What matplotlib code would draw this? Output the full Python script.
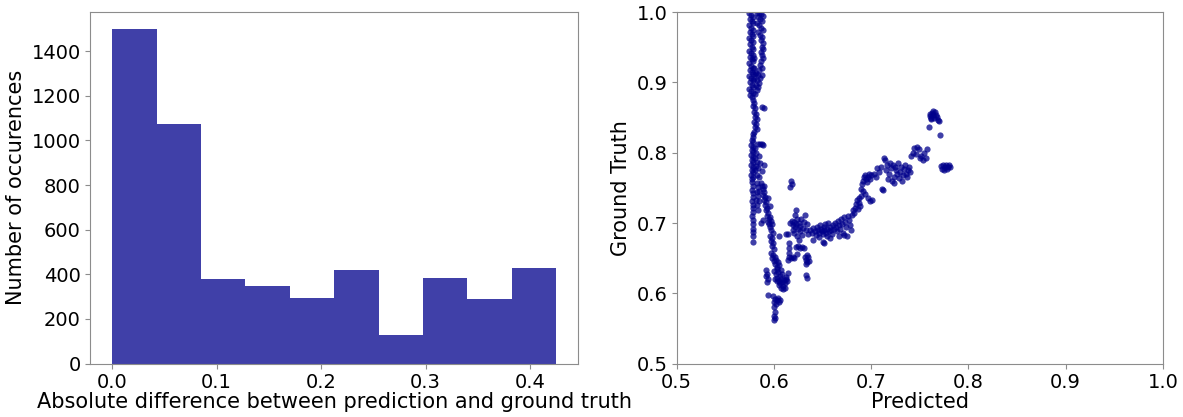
import numpy as np
import matplotlib
matplotlib.use('Agg')
import matplotlib.pyplot as plt

# histogram of absolute errors
bin_max = 0.425
hist_counts = [1500, 1075, 380, 350, 295, 418, 130, 385, 290, 430]

# predicted vs ground truth in chunks
pts_band_top = [(0.574, 0.999), (0.576, 0.996), (0.578, 0.993), (0.575, 0.990), (0.577, 0.987),
                (0.579, 0.984), (0.574, 0.981), (0.576, 0.978), (0.578, 0.975), (0.575, 0.972),
                (0.577, 0.969), (0.579, 0.966), (0.574, 0.963), (0.576, 0.960), (0.578, 0.957),
                (0.575, 0.954), (0.577, 0.951), (0.579, 0.948), (0.574, 0.945), (0.576, 0.942),
                (0.578, 0.939), (0.575, 0.936), (0.577, 0.933), (0.579, 0.930), (0.574, 0.927),
                (0.576, 0.924), (0.578, 0.921), (0.575, 0.918), (0.577, 0.915), (0.579, 0.912),
                (0.574, 0.909), (0.576, 0.906), (0.578, 0.903), (0.575, 0.900), (0.577, 0.897),
                (0.579, 0.894), (0.574, 0.891), (0.576, 0.888), (0.578, 0.885), (0.575, 0.882),
                (0.577, 0.879), (0.580, 0.905), (0.580, 0.920), (0.581, 0.912), (0.580, 0.935)]
pts_band_right = [(0.583, 0.999), (0.585, 0.998), (0.587, 0.997), (0.589, 0.995), (0.584, 0.993),
                  (0.586, 0.990), (0.588, 0.987), (0.583, 0.984), (0.585, 0.981), (0.587, 0.978),
                  (0.589, 0.975), (0.584, 0.972), (0.586, 0.968), (0.588, 0.964), (0.587, 0.960),
                  (0.589, 0.956), (0.588, 0.951), (0.589, 0.947), (0.587, 0.943), (0.588, 0.939),
                  (0.589, 0.934), (0.587, 0.930), (0.586, 0.925), (0.588, 0.921), (0.585, 0.917),
                  (0.582, 0.914), (0.584, 0.910), (0.588, 0.910), (0.586, 0.906), (0.583, 0.903),
                  (0.585, 0.899), (0.582, 0.896), (0.584, 0.893), (0.583, 0.889), (0.581, 0.884)]
pts_band_mid = [(0.578, 0.875), (0.580, 0.871), (0.579, 0.867), (0.581, 0.863), (0.588, 0.865),
                (0.590, 0.864), (0.580, 0.858), (0.582, 0.855), (0.581, 0.851), (0.583, 0.848),
                (0.580, 0.844), (0.582, 0.841), (0.581, 0.837), (0.583, 0.834), (0.580, 0.830),
                (0.579, 0.826), (0.578, 0.822), (0.577, 0.818), (0.579, 0.815), (0.576, 0.811),
                (0.578, 0.808), (0.577, 0.804), (0.579, 0.801), (0.576, 0.797), (0.578, 0.794),
                (0.577, 0.790), (0.579, 0.787), (0.576, 0.783), (0.578, 0.780), (0.577, 0.776),
                (0.579, 0.773), (0.576, 0.769), (0.578, 0.766), (0.577, 0.762), (0.581, 0.806),
                (0.582, 0.800), (0.581, 0.792), (0.583, 0.787), (0.582, 0.781), (0.581, 0.775),
                (0.583, 0.769), (0.584, 0.813), (0.586, 0.812), (0.588, 0.812), (0.589, 0.811),
                (0.585, 0.795), (0.584, 0.778), (0.586, 0.786), (0.590, 0.783), (0.588, 0.774),
                (0.585, 0.765)]
pts_band_low = [(0.577, 0.758), (0.578, 0.752), (0.577, 0.747), (0.579, 0.742), (0.578, 0.737),
                (0.577, 0.731), (0.578, 0.726), (0.579, 0.721), (0.578, 0.715), (0.577, 0.710),
                (0.578, 0.704), (0.579, 0.698), (0.578, 0.692), (0.579, 0.687), (0.578, 0.681),
                (0.579, 0.673), (0.583, 0.757), (0.584, 0.751), (0.583, 0.744), (0.584, 0.738),
                (0.585, 0.731), (0.583, 0.725), (0.584, 0.719), (0.585, 0.745), (0.582, 0.733)]
pts_drop = [(0.587, 0.757), (0.588, 0.752), (0.589, 0.748), (0.590, 0.744), (0.589, 0.740),
            (0.591, 0.737), (0.590, 0.733), (0.592, 0.730), (0.591, 0.726), (0.593, 0.722),
            (0.592, 0.718), (0.594, 0.714), (0.593, 0.710), (0.595, 0.706), (0.594, 0.702),
            (0.596, 0.708), (0.595, 0.698), (0.597, 0.703), (0.596, 0.694), (0.598, 0.699),
            (0.597, 0.690), (0.599, 0.686), (0.596, 0.682), (0.598, 0.679), (0.597, 0.675),
            (0.599, 0.671), (0.598, 0.667), (0.600, 0.663), (0.597, 0.658), (0.599, 0.654),
            (0.598, 0.650), (0.600, 0.646), (0.601, 0.652), (0.602, 0.648), (0.601, 0.642),
            (0.603, 0.638), (0.604, 0.645), (0.590, 0.753), (0.594, 0.736), (0.596, 0.724),
            (0.587, 0.700), (0.589, 0.704), (0.605, 0.681),
            (0.592, 0.633), (0.593, 0.628), (0.592, 0.624), (0.594, 0.620), (0.593, 0.616),
            (0.594, 0.597),
            (0.600, 0.632), (0.602, 0.627), (0.603, 0.622), (0.604, 0.630), (0.605, 0.618),
            (0.606, 0.625), (0.606, 0.614), (0.607, 0.621), (0.608, 0.616), (0.609, 0.611),
            (0.608, 0.628), (0.610, 0.619), (0.611, 0.614), (0.612, 0.623), (0.607, 0.608),
            (0.609, 0.606), (0.605, 0.612), (0.603, 0.617), (0.601, 0.620), (0.611, 0.608),
            (0.613, 0.617), (0.603, 0.635), (0.605, 0.640), (0.607, 0.633),
            (0.599, 0.596), (0.601, 0.592), (0.600, 0.588), (0.602, 0.585), (0.603, 0.590),
            (0.604, 0.594), (0.605, 0.587), (0.606, 0.590), (0.600, 0.580), (0.601, 0.573),
            (0.600, 0.568), (0.601, 0.565), (0.600, 0.562)]
pts_mid = [(0.618, 0.760), (0.617, 0.751), (0.619, 0.756),
           (0.614, 0.684), (0.616, 0.672), (0.615, 0.665), (0.616, 0.658), (0.615, 0.652),
           (0.614, 0.648), (0.618, 0.650),
           (0.617, 0.700), (0.619, 0.703), (0.620, 0.697), (0.621, 0.702), (0.622, 0.694),
           (0.620, 0.690), (0.623, 0.698), (0.624, 0.705), (0.622, 0.711), (0.623, 0.718),
           (0.625, 0.692), (0.626, 0.700), (0.627, 0.688), (0.627, 0.696), (0.628, 0.706),
           (0.629, 0.683), (0.630, 0.693), (0.631, 0.701), (0.632, 0.712), (0.633, 0.690),
           (0.634, 0.698), (0.635, 0.685), (0.624, 0.681), (0.621, 0.686), (0.626, 0.676),
           (0.623, 0.666), (0.625, 0.667), (0.627, 0.664), (0.629, 0.666), (0.631, 0.665),
           (0.624, 0.656), (0.621, 0.650), (0.620, 0.652),
           (0.632, 0.652), (0.633, 0.648), (0.634, 0.645), (0.635, 0.651), (0.636, 0.646),
           (0.634, 0.655), (0.633, 0.641),
           (0.633, 0.626), (0.634, 0.622), (0.614, 0.629), (0.612, 0.620), (0.612, 0.684)]
pts_rise = [(0.637, 0.690), (0.639, 0.686), (0.640, 0.693), (0.642, 0.688), (0.643, 0.683),
            (0.644, 0.695), (0.645, 0.690), (0.646, 0.686), (0.647, 0.697), (0.648, 0.692),
            (0.649, 0.688), (0.650, 0.684), (0.651, 0.694), (0.652, 0.690), (0.653, 0.698),
            (0.654, 0.686), (0.655, 0.692), (0.656, 0.700), (0.657, 0.688), (0.658, 0.695),
            (0.659, 0.690), (0.660, 0.684), (0.661, 0.697), (0.662, 0.692), (0.640, 0.676),
            (0.646, 0.680), (0.650, 0.673), (0.651, 0.671), (0.655, 0.681), (0.658, 0.679),
            (0.663, 0.700), (0.664, 0.694), (0.665, 0.688), (0.666, 0.703), (0.667, 0.697),
            (0.668, 0.691), (0.669, 0.705), (0.670, 0.699), (0.671, 0.686), (0.672, 0.708),
            (0.673, 0.702), (0.674, 0.694), (0.675, 0.681), (0.676, 0.710), (0.677, 0.704),
            (0.678, 0.697), (0.679, 0.690), (0.680, 0.712), (0.667, 0.682), (0.672, 0.683),
            (0.681, 0.718), (0.682, 0.714), (0.683, 0.722), (0.684, 0.727), (0.685, 0.733),
            (0.686, 0.720), (0.687, 0.736), (0.688, 0.729), (0.689, 0.724), (0.690, 0.738),
            (0.690, 0.748), (0.691, 0.755), (0.692, 0.760), (0.693, 0.765), (0.694, 0.768),
            (0.695, 0.763), (0.696, 0.758), (0.697, 0.766), (0.698, 0.770), (0.699, 0.762),
            (0.700, 0.768), (0.692, 0.745), (0.694, 0.741), (0.697, 0.735), (0.699, 0.732),
            (0.701, 0.733), (0.703, 0.770), (0.705, 0.765),
            (0.706, 0.778), (0.708, 0.772), (0.710, 0.780), (0.711, 0.748), (0.712, 0.747),
            (0.713, 0.793), (0.714, 0.790), (0.715, 0.775), (0.716, 0.783), (0.717, 0.762),
            (0.718, 0.770), (0.719, 0.785), (0.720, 0.778), (0.721, 0.760), (0.722, 0.782),
            (0.723, 0.766), (0.724, 0.757), (0.725, 0.780), (0.726, 0.775), (0.727, 0.770),
            (0.728, 0.785), (0.729, 0.764), (0.730, 0.772), (0.731, 0.780), (0.732, 0.760),
            (0.733, 0.768), (0.734, 0.777), (0.735, 0.783), (0.736, 0.770), (0.737, 0.766),
            (0.738, 0.775), (0.739, 0.780), (0.740, 0.772), (0.741, 0.795), (0.743, 0.800),
            (0.744, 0.806), (0.746, 0.798), (0.747, 0.808), (0.749, 0.805), (0.750, 0.792),
            (0.751, 0.796), (0.753, 0.790), (0.754, 0.800), (0.756, 0.793), (0.757, 0.805),
            (0.760, 0.852), (0.761, 0.855), (0.762, 0.850), (0.763, 0.857), (0.764, 0.853),
            (0.765, 0.849), (0.766, 0.858), (0.767, 0.854), (0.768, 0.851), (0.764, 0.860),
            (0.762, 0.848), (0.769, 0.846), (0.770, 0.845), (0.759, 0.837), (0.771, 0.825),
            (0.772, 0.781), (0.773, 0.777), (0.774, 0.783), (0.775, 0.776), (0.776, 0.779),
            (0.777, 0.782), (0.778, 0.777), (0.779, 0.780), (0.780, 0.783), (0.781, 0.779)]

tick_fs = 14
label_fs = 15
edge_col = '#8c8c8c'

fig = plt.figure(figsize=(11.83, 4.17), dpi=100)
ax1 = fig.add_axes([0.076, 0.128, 0.413, 0.843])
ax2 = fig.add_axes([0.572, 0.128, 0.411, 0.843])

edges = np.linspace(0, bin_max, len(hist_counts) + 1)
centers = (edges[:-1] + edges[1:]) / 2
ax1.hist(centers, bins=edges, weights=hist_counts, color='darkblue', alpha=0.75)
ax1.set_xlabel('Absolute difference between prediction and ground truth',
               fontsize=label_fs, labelpad=0)
ax1.set_ylabel('Number of occurences', fontsize=label_fs)

all_pts = np.array(pts_band_top + pts_band_right + pts_band_mid + pts_band_low
                   + pts_drop + pts_mid + pts_rise)
ax2.scatter(all_pts[:, 0], all_pts[:, 1], s=20, color='darkblue', alpha=0.75,
            linewidths=0)
ax2.set_xlim(0.5, 1.0)
ax2.set_ylim(0.5, 1.0)
ax2.set_xlabel('Predicted', fontsize=label_fs, labelpad=0)
ax2.set_ylabel('Ground Truth', fontsize=label_fs)

for ax in (ax1, ax2):
    ax.tick_params(labelsize=tick_fs, color=edge_col, pad=3)
    for sp in ax.spines.values():
        sp.set_color(edge_col)

fig.savefig('out.png', dpi=100)
